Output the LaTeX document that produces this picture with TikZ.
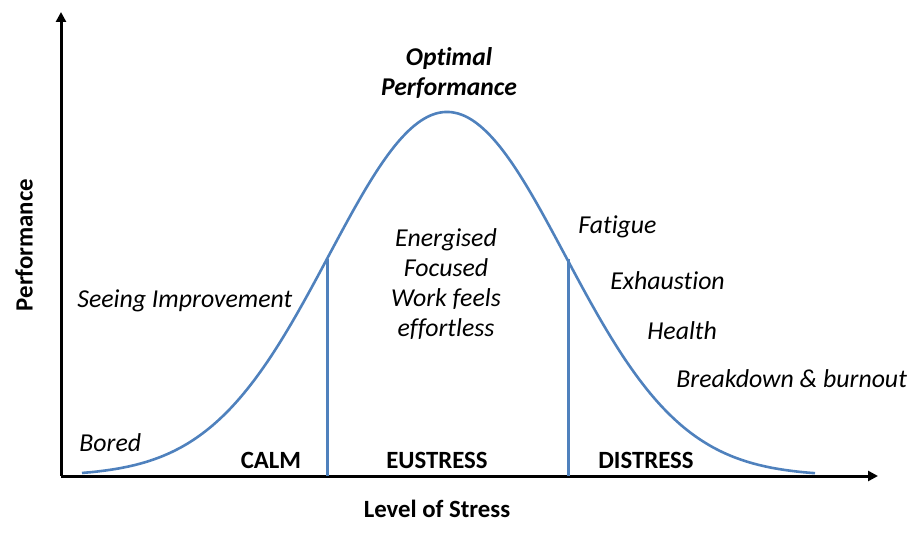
\documentclass[tikz,border=0pt]{standalone}
\usepackage{fontspec}
\setmainfont{Carlito}[Ligatures=NoCommon]
\usetikzlibrary{positioning, arrows.meta}
\definecolor{stressblue}{RGB}{79,129,189}

\begin{document}
\begin{tikzpicture}[x=0.5pt, y=-0.5pt, font=\fontsize{12.4}{15}\selectfont,
        axis/.style={line width=1.5pt, -{Triangle[length=5pt, width=5pt]}},
        curve/.style={line width=1.3pt, stressblue},
        zoneline/.style={line width=1.5pt, stressblue},
        lbl/.style={inner sep=0pt, anchor=base west, font=\fontsize{12.9}{15}\selectfont\itshape},
        zone/.style={inner sep=0pt, anchor=base, font=\fontsize{12.4}{15}\selectfont\bfseries}]
        \useasboundingbox (0,0) rectangle (922,540);

        \coordinate (O) at (61,476);
        \coordinate (xend) at (878,476);
        \coordinate (yend) at (61,12);
        \coordinate (calmtop) at (327,259);
        \coordinate (calmfoot) at (327,476);
        \coordinate (distop) at (568,259);
        \coordinate (disfoot) at (568,476);

        % axes
        \draw[axis] (O) -- (yend);
        \draw[axis] (O) -- (xend);

        % stress curve
        \draw[curve] plot[domain=82:815, samples=120, smooth] (\x, {476-364*exp(-0.5*((\x-447)/118)^2)});
        \draw[zoneline] (calmfoot) -- (calmtop);
        \draw[zoneline] (disfoot) -- (distop);

        \node (ylabel) [rotate=90, font=\fontsize{12.4}{15}\selectfont\bfseries] at (24,245) {Performance};
        \node (xlabel) [zone] at (437,517) {Level of Stress};

        \node (calm) [zone] at (271,468) {CALM};
        \node (eustress) [zone] at (437,468) {EUSTRESS};
        \node (distress) [zone] at (646,468) {DISTRESS};

        \node (optimal) [align=center, inner sep=0pt, font=\fontsize{12.8}{15}\selectfont\bfseries\itshape] at (449,73) {Optimal\\Performance};
        \node (energised) [align=center, inner sep=0pt, font=\fontsize{12.9}{15}\selectfont\itshape] at (446,284) {Energised\\Focused\\Work feels\\effortless};

        \node (bored) [lbl] at (79,451) {Bored};
        \node (seeing) [lbl] at (77,307) {Seeing Improvement};
        \node (fatigue) [lbl] at (578,234) {Fatigue};
        \node (exhaustion) [lbl] at (610,290) {Exhaustion};
        \node (health) [lbl] at (647,339) {Health};
        \node (burnout) [lbl] at (676,387) {Breakdown \& burnout};

\end{tikzpicture}
\end{document}
